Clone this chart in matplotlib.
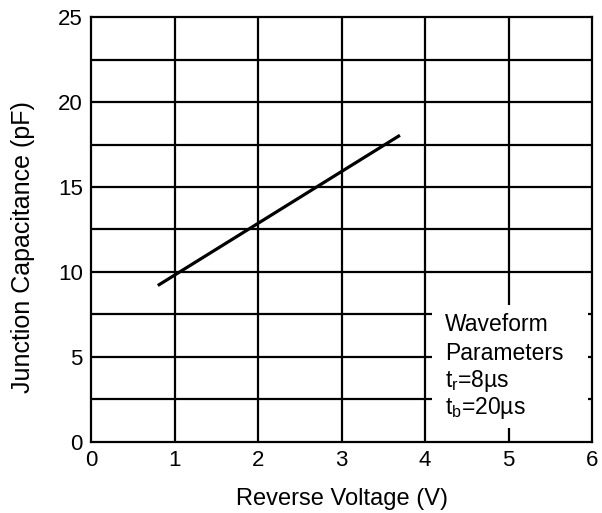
import matplotlib
matplotlib.use("Agg")
import matplotlib.pyplot as plt

plt.rcParams["font.family"] = ["Liberation Sans", "DejaVu Sans"]
plt.rcParams["mathtext.fontset"] = "custom"
plt.rcParams["mathtext.rm"] = "Liberation Sans"

# ── Data ──────────────────────────────────────────────────────────────────────
voltage = [0.8, 3.7]          # V
capacitance = [9.2, 18.05]    # pF

x_ticks = [0, 1, 2, 3, 4, 5, 6]
y_ticks = [0, 5, 10, 15, 20, 25]

# full-width horizontal grid lines
h_full = [10, 12.5, 15, 17.5, 20, 22.5]
# horizontal grid lines cut by the text box (stop at x=4)
h_cut = [2.5, 5, 7.5]
v_full = [1, 2, 3, 4]

note_lines = ["Waveform", "Parameters",
              r"$\mathregular{t_r}$=8µs", r"$\mathregular{t_b}$=20µs"]
note_y = [6.9, 5.2, 3.6, 2.0]

# ── Plot ──────────────────────────────────────────────────────────────────────
fig = plt.figure(figsize=(6.02, 5.13), dpi=100)
ax = fig.add_axes([0.1512, 0.139, 0.8322, 0.8273])

lw = 1.6
ax.hlines(h_full, 0, 6, color="black", linewidth=lw)
ax.hlines(h_cut, 0, 4.08, color="black", linewidth=lw)
ax.hlines(h_cut, 5.95, 6, color="black", linewidth=lw)
ax.vlines(v_full, 0, 25, color="black", linewidth=lw)
ax.vlines(5, 8.05, 25, color="black", linewidth=lw)
ax.vlines(5, 0, 0.8, color="black", linewidth=lw)

ax.plot(voltage, capacitance, color="black", linewidth=2.3, solid_capstyle="butt")

for txt, y in zip(note_lines, note_y):
    ax.text(4.24, y, txt, fontsize=16.5, va="center", ha="left")

ax.set_xlim(0, 6)
ax.set_ylim(0, 25)
ax.set_xticks(x_ticks)
ax.set_yticks(y_ticks)
ax.tick_params(length=0, labelsize=16, pad=6)
for s in ax.spines.values():
    s.set_linewidth(lw)

ax.set_xlabel("Reverse Voltage (V)", fontsize=17, labelpad=12)
ax.set_ylabel("Junction Capacitance (pF)", fontsize=18)
ax.yaxis.set_label_coords(-0.112, 0.458)

plt.savefig("out.png", dpi=100)
